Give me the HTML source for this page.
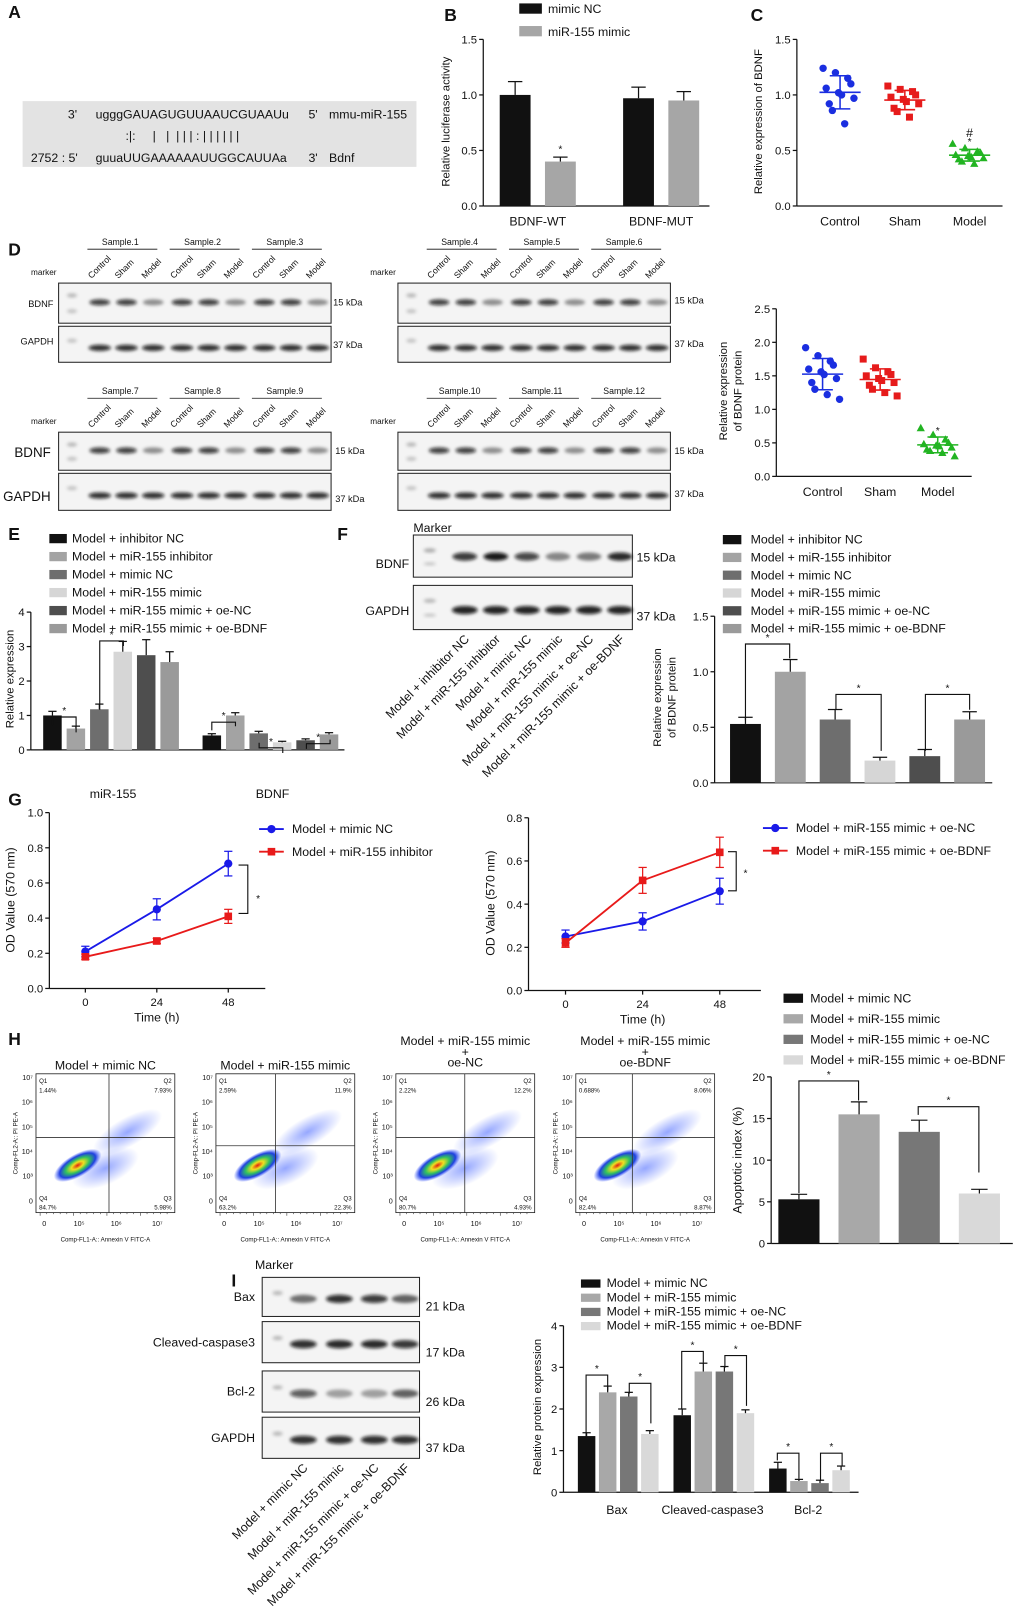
<!DOCTYPE html>
<html><head><meta charset="utf-8"><style>
html,body{margin:0;padding:0;background:#fff;}
svg{display:block;font-family:"Liberation Sans",Arial,sans-serif;}
text{white-space:pre;}
</style></head><body>
<svg id="fig" width="1020" height="1616" viewBox="0 0 992 1571" xmlns="http://www.w3.org/2000/svg" xml:space="preserve">
<defs>
<filter id="blur" x="-30%" y="-60%" width="160%" height="220%"><feGaussianBlur stdDeviation="1.6"/></filter>
<radialGradient id="dens" cx="50%" cy="50%" r="50%">
<stop offset="0" stop-color="#e02010"/><stop offset="0.25" stop-color="#f0e020"/><stop offset="0.5" stop-color="#30c060"/><stop offset="0.75" stop-color="#2040e0"/><stop offset="1" stop-color="#3050ff" stop-opacity="0"/>
</radialGradient>
<radialGradient id="cloud" cx="50%" cy="50%" r="50%">
<stop offset="0" stop-color="#4060ff" stop-opacity="0.55"/><stop offset="1" stop-color="#4060ff" stop-opacity="0"/>
</radialGradient>
</defs>
</svg>
<script>
// ---------- data ----------
const bCats=['BDNF-WT','BDNF-MUT'];
const bNC=[1.0,0.97]; const bNCerr=[0.12,0.1];
const bMimic=[0.4,0.95]; const bMimicErr=[0.04,0.08];
const cControl=[1.24,1.2,1.15,1.1,1.06,1.02,1.0,0.97,0.92,0.86,0.74];
const cSham=[1.08,1.05,1.03,1.0,0.98,0.96,0.94,0.92,0.88,0.85,0.8];
const cModel=[0.56,0.52,0.49,0.48,0.46,0.45,0.44,0.43,0.42,0.4,0.38];
const dControl=[1.92,1.8,1.72,1.66,1.6,1.56,1.52,1.46,1.4,1.3,1.22,1.15];
const dSham=[1.75,1.62,1.56,1.52,1.5,1.46,1.43,1.4,1.36,1.3,1.25,1.2];
const dModel=[0.72,0.62,0.55,0.5,0.48,0.46,0.45,0.43,0.4,0.38,0.35,0.3];
const eCats=['miR-155','BDNF'];
const eSeries=['Model + inhibitor NC','Model + miR-155 inhibitor','Model + mimic NC','Model + miR-155 mimic','Model + miR-155 mimic + oe-NC','Model + miR-155 mimic + oe-BDNF'];
const eS1=[1.0,0.42], eS2=[0.62,1.0], eS3=[1.18,0.48], eS4=[2.85,0.22], eS5=[2.75,0.28], eS6=[2.55,0.45];
const eErr1=[0.12,0.05], eErr2=[0.07,0.08], eErr3=[0.15,0.06], eErr4=[0.3,0.03], eErr5=[0.45,0.04], eErr6=[0.3,0.05];
const fVals=[0.53,1.0,0.57,0.2,0.24,0.57];
const fErr=[0.06,0.11,0.09,0.03,0.06,0.07];
const gTime=[0,24,48];
const gBlueL=[0.21,0.45,0.71], gBlueLErr=[0.03,0.06,0.07];
const gRedL=[0.18,0.27,0.41], gRedLErr=[0.015,0.015,0.04];
const gBlueR=[0.25,0.32,0.46], gBlueRErr=[0.03,0.04,0.06];
const gRedR=[0.22,0.51,0.64], gRedRErr=[0.02,0.06,0.07];
const hSeries=['Model + mimic NC','Model + miR-155 mimic','Model + miR-155 mimic + oe-NC','Model + miR-155 mimic + oe-BDNF'];
const hVals=[5.3,15.5,13.4,6.0]; const hErr=[0.6,1.5,1.4,0.5];
const iCats=['Bax','Cleaved-caspase3','Bcl-2'];
const iS1=[1.35,1.85,0.57], iS2=[2.4,2.9,0.27], iS3=[2.3,2.9,0.22], iS4=[1.4,1.9,0.53];
const iE1=[0.08,0.15,0.15], iE2=[0.15,0.2,0.04], iE3=[0.1,0.12,0.07], iE4=[0.08,0.08,0.1];

// ---------- helpers ----------
const NS='http://www.w3.org/2000/svg';
const svg=document.getElementById('fig');
function mk(tag,attrs,parent){const e=document.createElementNS(NS,tag);for(const k in attrs)e.setAttribute(k,attrs[k]);(parent||svg).appendChild(e);return e;}
function grp(name){const g=mk('g',{});return g;}
function T(x,y,s,size,name,opts,parent){opts=opts||{};const a={x:x,y:y,'font-size':size,fill:opts.fill||'#111'};if(opts.anchor)a['text-anchor']=opts.anchor;if(opts.weight)a['font-weight']=opts.weight;if(opts.rot!==undefined)a.transform='rotate('+opts.rot+' '+x+' '+y+')';const e=mk('text',a,parent);e.textContent=s;


return e;}
function L(x1,y1,x2,y2,parent,w,c){return mk('line',{x1:x1,y1:y1,x2:x2,y2:y2,stroke:c||'#111','stroke-width':w||1.2},parent);}
function scaleY(y0,top,max){return v=>y0-(v/max)*(y0-top);}
function yAxis(g,x,y0,top,max,ticks,labels,fs){const sy=scaleY(y0,top,max);L(x,y0,x,top,g);ticks.forEach((t,i)=>{L(x-4,sy(t),x,sy(t),g);T(x-6,sy(t)+4,labels[i],fs||11,'y-tick-label',{anchor:'end'},g);});return sy;}
function errBar(g,x,yv,ye,w){L(x,yv,x,ye,g,1.2);L(x-w,ye,x+w,ye,g,1.2);}
function bracket(g,x1,ya,x2,yb,top,star){mk('path',{d:`M${x1},${ya} V${top} H${x2} V${yb}`,fill:'none',stroke:'#111','stroke-width':1.1},g);if(star){T((x1+x2)/2,top-3,'*',10,'significance-star',{anchor:'middle'},g);}}
function legendRect(g,x,y,w,h,color,label,fs,tx){const r=mk('rect',{x:x,y:y,width:w,height:h,fill:color},g);


T(tx,y+h-0.5,label,fs,'legend-label',{},g);}
function band(g,cx,cy,w,h,d){mk('ellipse',{cx:cx,cy:cy,rx:w/2,ry:h/2,fill:'rgba(10,10,10,'+d+')',filter:'url(#blur)'},g);}
function blotBox(g,x,y,w,h){const r=mk('rect',{x:x,y:y,width:w,height:h,fill:'#f4f4f4',stroke:'#222','stroke-width':1},g);


return r;}
function letter(x,y,s){T(x,y,s,17,'panel-label-'+s,{weight:'bold'});}

// ---------- panel letters ----------
letter(8,17,'A');letter(432,20,'B');letter(730,20,'C');letter(8,248,'D');letter(8,525,'E');letter(328,525,'F');letter(8,783,'G');letter(8,1016,'H');letter(225,1251,'I');

// ---------- A ----------
(function(){const g=grp('panel-a-sequence');
const r=mk('rect',{x:22,y:98,width:383,height:64,fill:'#e3e3e3'},g);


T(66,115,"3'",12,'seq-end',{},g);T(93,115,'ugggGAUAGUGUUAAUCGUAAUu',12,'mirna-sequence',{},g);T(300,115,"5'",12,'seq-end',{},g);T(320,115,'mmu-miR-155',12,'mirna-name',{},g);
T(122,136,':|:     |   |  | | | : | | | | | |',12,'pairing-marks',{},g);
T(30,157,"2752 : 5'",12,'seq-position',{},g);T(93,157,'guuaUUGAAAAAAUUGGCAUUAa',12,'target-sequence',{},g);T(300,157,"3'",12,'seq-end',{},g);T(320,157,'Bdnf',12,'target-name',{},g);})();

// ---------- B ----------
(function(){const g=grp('panel-b-luciferase-chart');
const sy=yAxis(g,470,200,38,1.5,[0,0.5,1.0,1.5],['0.0','0.5','1.0','1.5']);
L(470,200,690,200,g);
bCats.forEach((c,i)=>{const x0=486+i*120;
const r1=mk('rect',{x:x0,y:sy(bNC[i]),width:30,height:200-sy(bNC[i]),fill:'#111'},g);

errBar(g,x0+15,sy(bNC[i]),sy(bNC[i]+bNCerr[i]),7);
const r2=mk('rect',{x:x0+44,y:sy(bMimic[i]),width:30,height:200-sy(bMimic[i]),fill:'#a6a6a6'},g);

errBar(g,x0+59,sy(bMimic[i]),sy(bMimic[i]+bMimicErr[i]),7);
T(x0+37,219,c,12,'x-category-label',{anchor:'middle'},g);});
T(545,148,'*',10,'significance-star',{anchor:'middle'},g);
T(437,118,'Relative luciferase activity',11,'y-axis-title',{anchor:'middle',rot:-90},g);
legendRect(g,505,3,22,10,'#111','mimic NC',12,533);legendRect(g,505,25,22,10,'#a6a6a6','miR-155 mimic',12,533);})();

// ---------- scatter helper ----------
function scatter(g,xc,vals,sy,color,shape,name){vals.forEach((v,i)=>{const dx=((i%4)-1.5)*9+((i%3)-1)*3;const x=xc+dx,y=sy(v);let e;
if(shape==='c')e=mk('circle',{cx:x,cy:y,r:3.6,fill:color},g);
else if(shape==='s')e=mk('rect',{x:x-3.4,y:y-3.4,width:6.8,height:6.8,fill:color},g);
else e=mk('path',{d:`M${x},${y-4.2} L${x+4},${y+3} L${x-4},${y+3} Z`,fill:color},g);

});
const m=vals.reduce((a,b)=>a+b,0)/vals.length;const sd=Math.sqrt(vals.reduce((a,b)=>a+(b-m)*(b-m),0)/(vals.length-1));
L(xc-20,sy(m),xc+20,sy(m),g,1.5,color);L(xc,sy(m-sd),xc,sy(m+sd),g,1.5,color);L(xc-10,sy(m+sd),xc+10,sy(m+sd),g,1.5,color);L(xc-10,sy(m-sd),xc+10,sy(m-sd),g,1.5,color);return m+sd;}

// ---------- C ----------
(function(){const g=grp('panel-c-scatter-chart');
const sy=yAxis(g,775,200,38,1.5,[0,0.5,1.0,1.5],['0.0','0.5','1.0','1.5']);L(775,200,975,200,g);
scatter(g,817,cControl,sy,'#1a2ee0','c','point-control');scatter(g,880,cSham,sy,'#e61b1b','s','point-sham');const top=scatter(g,943,cModel,sy,'#22b422','t','point-model');
T(943,sy(top)-4,'*',10,'significance-star',{anchor:'middle'},g);T(943,sy(top)-12,'#',12,'hash-mark',{anchor:'middle'},g);
['Control','Sham','Model'].forEach((c,i)=>T(817+i*63,219,c,12,'x-category-label',{anchor:'middle'},g));
T(741,118,'Relative expression of BDNF',11,'y-axis-title',{anchor:'middle',rot:-90},g);})();

// ---------- D blots ----------
function dBlot(x,yTop,ySample,big,startSample,kdaX,kda1y,kda2y,h1,h2){const g=grp('western-blot-samples-'+startSample);
for(let s=0;s<3;s++){const gx=x+26+s*80;T(gx+34,ySample,'Sample.'+(startSample+s),8.5,'sample-label',{anchor:'middle'},g);L(gx+2,ySample+4,gx+70,ySample+4,g,0.8);
['Control','Sham','Model'].forEach((c,j)=>T(gx+6+j*26,yTop-4,c,8.5,'lane-label',{rot:-45},g));}
T(x-2,yTop-8,'marker',8,'marker-label',{anchor:'end'},g);
blotBox(g,x,yTop,265,h1);blotBox(g,x,yTop+h1+3,265,h2);
band(g,x+13,yTop+12,10,4,0.25);band(g,x+13,yTop+h1*0.7,10,4,0.2);band(g,x+13,yTop+h1+3+h2*0.4,10,4,0.2);
for(let s=0;s<3;s++)for(let j=0;j<3;j++){const cx=x+40+s*80+j*26;band(g,cx,yTop+h1*0.48,20,6,j===2?0.42:0.78);band(g,cx,yTop+h1+3+h2*0.6,22,6,0.85);}
if(big==='l'){T(14,yTop+h1*0.65,'BDNF',13,'row-label-bdnf',{},g);T(3,yTop+h1+3+h2*0.75,'GAPDH',13,'row-label-gapdh',{},g);}
else if(big==='s'){T(x-5,yTop+h1*0.6,'BDNF',9,'row-label-bdnf',{anchor:'end'},g);T(x-5,yTop+h1+3+h2*0.5,'GAPDH',9,'row-label-gapdh',{anchor:'end'},g);}
T(kdaX,kda1y,'15 kDa',9,'kda-label',{},g);T(kdaX,kda2y,'37 kDa',9,'kda-label',{},g);}
dBlot(57,275,238,'s',1,324,297,338,39,35);
dBlot(387,275,238,null,4,656,295,337,39,35);
dBlot(57,420,383,'l',7,326,441,488,37,36);
dBlot(387,420,383,null,10,656,441,483,37,36);

// ---------- D scatter ----------
(function(){const g=grp('panel-d-protein-scatter');
const sy=yAxis(g,755,463,300,2.5,[0,0.5,1,1.5,2,2.5],['0.0','0.5','1.0','1.5','2.0','2.5']);L(755,463,945,463,g);
scatter(g,800,dControl,sy,'#1a2ee0','c','point-control');scatter(g,856,dSham,sy,'#e61b1b','s','point-sham');const top=scatter(g,912,dModel,sy,'#22b422','t','point-model');
T(912,sy(top)-3,'*',10,'significance-star',{anchor:'middle'},g);
['Control','Sham','Model'].forEach((c,i)=>T(800+i*56,482,c,12,'x-category-label',{anchor:'middle'},g));
T(707,380,'Relative expression',11,'y-axis-title',{anchor:'middle',rot:-90},g);T(721,380,'of BDNF protein',11,'y-axis-title',{anchor:'middle',rot:-90},g);})();

// ---------- E ----------
const sixColors=['#111','#a3a3a3','#6e6e6e','#d6d6d6','#4e4e4e','#9a9a9a'];
(function(){const g=grp('panel-e-expression-chart');
const sy=yAxis(g,30,729,595,4,[0,1,2,3,4],['0','1','2','3','4']);L(30,729,335,729,g);
const S=[eS1,eS2,eS3,eS4,eS5,eS6],E=[eErr1,eErr2,eErr3,eErr4,eErr5,eErr6];
eCats.forEach((c,gi)=>{S.forEach((s,si)=>{const x=42+gi*155+si*22.8;const r=mk('rect',{x:x,y:sy(s[gi]),width:18,height:729-sy(s[gi]),fill:sixColors[si]},g);

errBar(g,x+9,sy(s[gi]),sy(s[gi]+E[si][gi]),4);});T(110+gi*155,776,c,12,'x-category-label',{anchor:'middle'},g);});
bracket(g,51,705,74,712,697,true);bracket(g,97,690,120,628,623,true);
bracket(g,206,710,229,706,702,true);bracket(g,252,722,275,732,727,true);bracket(g,298,728,321,719,723,true);
T(13,660,'Relative expression',11,'y-axis-title',{anchor:'middle',rot:-90},g);
eSeries.forEach((s,i)=>legendRect(g,48,519+i*17.5,17,9,sixColors[i],s,12,70));})();

// ---------- F blot ----------
(function(){const g=grp('panel-f-western-blot');
T(402,517,'Marker',12,'marker-label',{},g);blotBox(g,402,520,213,41);blotBox(g,402,569,213,43);
band(g,418,535,12,4,0.3);band(g,418,548,12,3,0.2);band(g,418,584,12,4,0.25);band(g,418,598,12,3,0.2);
const bi=[0.8,0.95,0.75,0.45,0.5,0.88];const lanes=['Model + inhibitor NC','Model + miR-155 inhibitor','Model + mimic NC','Model + miR-155 mimic','Model + miR-155 mimic + oe-NC','Model + miR-155 mimic + oe-BDNF'];
bi.forEach((d,i)=>{const cx=452+i*30.2;band(g,cx,541,24,8,d);band(g,cx,593,25,8,0.9);T(cx+5,622,lanes[i],12,'lane-label',{anchor:'end',rot:-45},g);});
T(398,552,'BDNF',12,'row-label-bdnf',{anchor:'end'},g);T(398,598,'GAPDH',12,'row-label-gapdh',{anchor:'end'},g);
T(619,546,'15 kDa',12,'kda-label',{},g);T(619,603,'37 kDa',12,'kda-label',{},g);})();

// ---------- F chart ----------
(function(){const g=grp('panel-f-protein-chart');
const sy=yAxis(g,695,761,599,1.5,[0,0.5,1.0,1.5],['0.0','0.5','1.0','1.5']);L(695,761,965,761,g);
fVals.forEach((v,i)=>{const x=710+i*43.6;const r=mk('rect',{x:x,y:sy(v),width:30,height:761-sy(v),fill:sixColors[i]},g);

errBar(g,x+15,sy(v),sy(v+fErr[i]),7);});
bracket(g,725,700,768,640,626,true);bracket(g,813,690,857,730,675,true);bracket(g,900,730,943,690,675,true);
T(643,678,'Relative expression',11,'y-axis-title',{anchor:'middle',rot:-90},g);T(657,678,'of BDNF protein',11,'y-axis-title',{anchor:'middle',rot:-90},g);
eSeries.forEach((s,i)=>legendRect(g,703,520+i*17.3,18,9,sixColors[i],s,12,730));})();

// ---------- G ----------
function lineChart(name,ax,y0,top,max,ticks,labels,x0,x48,xEnd,blue,blueE,red,redE,legBlue,legRed,legX,legY){const g=grp(name);
const sy=yAxis(g,ax,y0,top,max,ticks,labels);L(ax,y0,xEnd,y0,g);
const sx=t=>x0+(t/48)*(x48-x0);
gTime.forEach(t=>{L(sx(t),y0,sx(t),y0+4,g);T(sx(t),y0+17,String(t),11,'x-tick-label',{anchor:'middle'},g);});
[[blue,blueE,'#1a1ae8','c','blue-series'],[red,redE,'#e81a1a','s','red-series']].forEach(([vals,errs,col,shape,nm])=>{
const p=mk('polyline',{points:vals.map((v,i)=>sx(gTime[i])+','+sy(v)).join(' '),fill:'none',stroke:col,'stroke-width':1.8},g);

vals.forEach((v,i)=>{const x=sx(gTime[i]);L(x,sy(v-errs[i]),x,sy(v+errs[i]),g,1.2,col);L(x-4,sy(v+errs[i]),x+4,sy(v+errs[i]),g,1.2,col);L(x-4,sy(v-errs[i]),x+4,sy(v-errs[i]),g,1.2,col);
let m;if(shape==='c')m=mk('circle',{cx:x,cy:sy(v),r:4,fill:col},g);else m=mk('rect',{x:x-3.7,y:sy(v)-3.7,width:7.4,height:7.4,fill:col},g);
});});
T((x0+x48)/2,y0+32,'Time (h)',12,'x-axis-title',{anchor:'middle'},g);
[[legBlue,'#1a1ae8','c'],[legRed,'#e81a1a','s']].forEach(([lab,col,sh],i)=>{const y=legY+i*22;L(legX,y,legX+24,y,g,1.8,col);
if(sh==='c')mk('circle',{cx:legX+12,cy:y,r:4,fill:col},g);else mk('rect',{x:legX+8.3,y:y-3.7,width:7.4,height:7.4,fill:col},g);
T(legX+32,y+4,lab,12,'legend-label',{},g);});
return {g:g,sx:sx,sy:sy};}
(function(){const a=lineChart('panel-g-left-line-chart',48,961,790,1.0,[0,0.2,0.4,0.6,0.8,1.0],['0.0','0.2','0.4','0.6','0.8','1.0'],83,222,258,gBlueL,gBlueLErr,gRedL,gRedLErr,'Model + mimic NC','Model + miR-155 inhibitor',252,806);
mk('path',{d:'M232,841 H241 V888 H232',fill:'none',stroke:'#111','stroke-width':1.1},a.g);T(251,877,'*',10,'significance-star',{anchor:'middle'},a.g);
T(14,875,'OD Value (570 nm)',12,'y-axis-title',{anchor:'middle',rot:-90},a.g);
const b=lineChart('panel-g-right-line-chart',514,963,795,0.8,[0,0.2,0.4,0.6,0.8],['0.0','0.2','0.4','0.6','0.8'],550,700,740,gBlueR,gBlueRErr,gRedR,gRedRErr,'Model + miR-155 mimic + oe-NC','Model + miR-155 mimic + oe-BDNF',742,805);
mk('path',{d:'M708,828 H716 V866 H708',fill:'none',stroke:'#111','stroke-width':1.1},b.g);T(725,852,'*',10,'significance-star',{anchor:'middle'},b.g);
T(481,878,'OD Value (570 nm)',12,'y-axis-title',{anchor:'middle',rot:-90},b.g);})();

// ---------- H flow plots ----------
(function(){const titles=[['Model + mimic NC'],['Model + miR-155 mimic'],['Model + miR-155 mimic','+','oe-NC'],['Model + miR-155 mimic','+','oe-BDNF']];
const q=[['1.44%','7.93%','84.7%','5.98%'],['2.59%','11.9%','63.2%','22.3%'],['2.22%','12.2%','80.7%','4.93%'],['0.688%','8.06%','82.4%','8.87%']];
const vx=[71,58,67,55],hy=[62,70,62,62];
[35,210,385,560].forEach((x,i)=>{const g=grp('flow-cytometry-plot-'+(i+1));const y=1044,w=135,h=135;
const tl=titles[i];tl.forEach((t,k)=>T(x+w/2,1040-(tl.length-1-k)*10.5-(tl.length>1?3:0),t,12,'plot-title',{anchor:'middle'},g));
mk('ellipse',{cx:x+w*0.66,cy:y+h*0.42,rx:38,ry:14,fill:'url(#cloud)',transform:`rotate(-30 ${x+w*0.66} ${y+h*0.42})`},g);
mk('ellipse',{cx:x+w*0.5,cy:y+h*0.68,rx:35,ry:16,fill:'url(#cloud)',transform:`rotate(-25 ${x+w*0.5} ${y+h*0.68})`},g);
const bl=mk('ellipse',{cx:x+w*0.3,cy:y+h*0.66,rx:26,ry:11,fill:'url(#dens)',transform:`rotate(-30 ${x+w*0.3} ${y+h*0.66})`},g);

mk('rect',{x:x,y:y,width:w,height:h,fill:'none',stroke:'#222','stroke-width':0.8},g);
L(x+vx[i],y,x+vx[i],y+h,g,0.8,'#333');L(x,y+hy[i],x+w,y+hy[i],g,0.8,'#333');
T(x+3,y+9,'Q1',6,'quadrant-label',{},g);T(x+3,y+18,q[i][0],6,'quadrant-value',{},g);
T(x+w-3,y+9,'Q2',6,'quadrant-label',{anchor:'end'},g);T(x+w-3,y+18,q[i][1],6,'quadrant-value',{anchor:'end'},g);
T(x+3,y+h-12,'Q4',6,'quadrant-label',{},g);T(x+3,y+h-3,q[i][2],6,'quadrant-value',{},g);
T(x+w-3,y+h-12,'Q3',6,'quadrant-label',{anchor:'end'},g);T(x+w-3,y+h-3,q[i][3],6,'quadrant-value',{anchor:'end'},g);
['10⁷','10⁶','10⁵','10⁴','10³','0'].forEach((t,k)=>T(x-3,y+6+k*24,t,7,'y-tick-label',{anchor:'end'},g));
[['0',8],['10⁵',42],['10⁶',78],['10⁷',118]].forEach(([t,px])=>T(x+px,y+h+13,t,7,'x-tick-label',{anchor:'middle'},g));
for(let k=0;k<20;k++)L(x+4+k*6.5,y+h,x+4+k*6.5,y+h+(k%5===0?3:1.5),g,0.5);
T(x-18,y+h/2,'Comp-FL2-A:: PI PE-A',6,'y-axis-title',{anchor:'middle',rot:-90},g);
T(x+w/2,y+h+28,'Comp-FL1-A:: Annexin V FITC-A',6,'x-axis-title',{anchor:'middle'},g);});})();

// ---------- H chart ----------
const fourColors=['#111','#a8a8a8','#777','#d9d9d9'];
(function(){const g=grp('panel-h-apoptosis-chart');
const sy=yAxis(g,750,1209,1047,20,[0,5,10,15,20],['0','5','10','15','20']);L(750,1209,985,1209,g);
hVals.forEach((v,i)=>{const x=757+i*58.5;const r=mk('rect',{x:x,y:sy(v),width:40,height:1209-sy(v),fill:fourColors[i]},g);

errBar(g,x+20,sy(v),sy(v+hErr[i]),8);});
bracket(g,777,1160,835,1070,1051,true);bracket(g,893,1084,952,1140,1076,true);
T(721,1128,'Apoptotic index (%)',12,'y-axis-title',{anchor:'middle',rot:-90},g);
hSeries.forEach((s,i)=>legendRect(g,762,966+i*20,19,9,fourColors[i],s,12,788));})();

// ---------- I blot ----------
(function(){const g=grp('panel-i-western-blot');T(248,1234,'Marker',12,'marker-label',{},g);
const rows=[['Bax',1242,38,'21 kDa',[0.55,0.85,0.8,0.6]],['Cleaved-caspase3',1285,40,'17 kDa',[0.85,0.88,0.88,0.82]],['Bcl-2',1333,40,'26 kDa',[0.65,0.35,0.35,0.6]],['GAPDH',1378,40,'37 kDa',[0.85,0.85,0.85,0.85]]];
const lanes=[295,330,364,394];const names=['Model + mimic NC','Model + miR-155 mimic','Model + miR-155 mimic + oe-NC','Model + miR-155 mimic + oe-BDNF'];
rows.forEach(([n,y,h,k,ds])=>{blotBox(g,255,y,153,h);band(g,270,y+h*0.4,10,4,0.25);ds.forEach((d,j)=>band(g,lanes[j],y+h*0.55,26,8,d));
T(248,y+h*0.6,n,12,'row-label',{anchor:'end'},g);T(414,y+h*0.85,k,12,'kda-label',{},g);});
names.forEach((n,j)=>T(lanes[j]+5,1428,n,12,'lane-label',{anchor:'end',rot:-45},g));})();

// ---------- I chart ----------
(function(){const g=grp('panel-i-protein-chart');
const sy=yAxis(g,548,1451,1289,4,[0,1,2,3,4],['0','1','2','3','4']);L(548,1451,835,1451,g);
const S=[iS1,iS2,iS3,iS4],E=[iE1,iE2,iE3,iE4];
iCats.forEach((c,gi)=>{S.forEach((s,si)=>{const x=562+gi*93+si*20.5;const r=mk('rect',{x:x,y:sy(s[gi]),width:17,height:1451-sy(s[gi]),fill:fourColors[si]},g);

errBar(g,x+8.5,sy(s[gi]),sy(s[gi]+E[si][gi]),4);});T(600+gi*93,1472,c,12,'x-category-label',{anchor:'middle'},g);});
bracket(g,570,1398,591,1352,1337,true);bracket(g,612,1355,633,1384,1345,true);
bracket(g,663,1370,684,1325,1314,true);bracket(g,705,1330,726,1367,1318,true);
bracket(g,756,1420,777,1438,1413,true);bracket(g,798,1440,819,1425,1413,true);
T(526,1368,'Relative protein expression',11,'y-axis-title',{anchor:'middle',rot:-90},g);
hSeries.forEach((s,i)=>legendRect(g,565,1244+i*13.8,19,8,fourColors[i],s,12,590));})();
</script>
</body></html>
